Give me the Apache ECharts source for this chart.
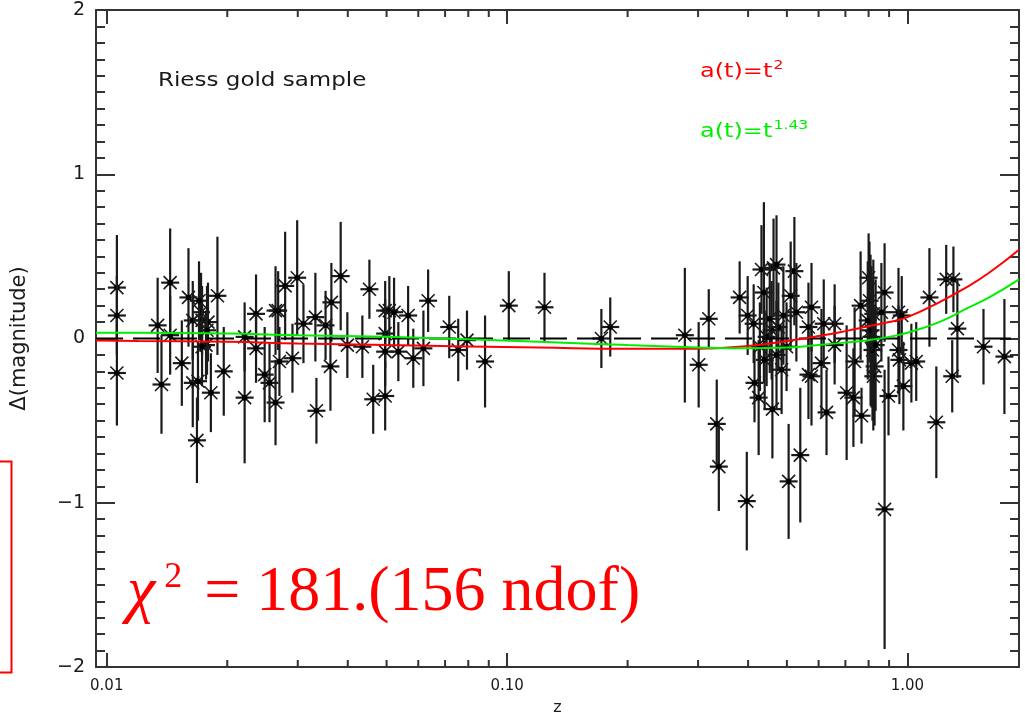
<!DOCTYPE html>
<html>
<head>
<meta charset="utf-8">
<title>Riess gold sample</title>
<script src="https://cdn.jsdelivr.net/npm/echarts@6/dist/echarts.min.js"></script>
<style>
html, body { margin: 0; padding: 0; background: #fff; }
#chart { width: 1025px; height: 714px; }
</style>
</head>
<body>
<div id="chart"></div>
<script>
// supernovae: redshift, residual magnitude, 1-sigma error
var snZ = [
  0.0106, 0.0106, 0.0106, 0.0134, 0.0144, 0.0137, 0.0144, 0.0154, 0.0160, 0.0164,
  0.0172, 0.0173, 0.0179, 0.0177, 0.0173, 0.0164, 0.0169, 0.0182, 0.0168, 0.0189,
  0.0196, 0.0221, 0.0221, 0.0236, 0.0236, 0.0248, 0.0255, 0.0264, 0.0268, 0.0264,
  0.0270, 0.0279, 0.0291, 0.0299, 0.0310, 0.0332, 0.0334, 0.0352, 0.0362, 0.0364,
  0.0384, 0.0453, 0.0399, 0.0435, 0.0496, 0.0508, 0.0522, 0.0496, 0.0496, 0.0535,
  0.0566, 0.0583, 0.0618, 0.0635, 0.0463, 0.0496, 0.0717, 0.0755, 0.0794, 0.0881,
  0.101, 0.124, 0.172, 0.181, 0.278, 0.301, 0.319, 0.334, 0.338, 0.397,
  0.381, 0.399, 0.413, 0.432, 0.438, 0.463, 0.471, 0.522, 0.511, 0.528,
  0.415, 0.425, 0.460, 0.485, 0.505, 0.540, 0.458, 0.476, 0.445, 0.428,
  0.499, 0.566, 0.566, 0.576, 0.576, 0.610, 0.628, 0.618, 0.658, 0.658,
  0.705, 0.738, 0.733, 0.768, 0.764, 0.800, 0.804, 0.822, 0.813, 0.828,
  0.822, 0.877, 0.861, 0.897, 0.877, 0.950, 0.950, 0.955, 0.977, 1.023,
  1.052, 1.135, 1.250, 1.303, 1.333, 1.294, 1.181, 1.549, 1.747, 0.968,
  0.809, 0.818, 0.796, 0.833, 0.453, 0.490, 0.471, 0.440, 0.0170, 0.0178
];
var snDm = [
  0.31, 0.14, -0.21, 0.08, 0.34, -0.28, 0.02, -0.15, 0.25, 0.11,
  0.16, 0.11, 0.10, -0.04, -0.05, -0.27, -0.26, -0.33, -0.62, 0.26,
  -0.20, -0.36, 0.01, 0.15, -0.06, -0.22, -0.27, 0.17, 0.17, -0.39,
  -0.14, 0.32, -0.12, 0.37, 0.09, 0.13, -0.44, 0.08, -0.17, 0.22,
  0.38, 0.30, -0.04, -0.05, 0.17, 0.17, 0.16, 0.03, -0.08, -0.08,
  0.14, -0.12, -0.06, 0.23, -0.37, -0.35, 0.07, -0.07, -0.01, -0.14,
  0.20, 0.19, 0.00, 0.07, 0.02, -0.16, 0.12, -0.52, -0.78, -0.99,
  0.25, 0.14, 0.09, 0.42, 0.28, 0.43, 0.45, 0.41, 0.26, 0.16,
  -0.27, -0.36, -0.43, -0.19, -0.87, -0.71, 0.05, 0.07, 0.01, -0.05,
  -0.05, 0.07, -0.22, 0.19, -0.23, -0.15, -0.45, 0.09, 0.09, -0.04,
  -0.33, -0.14, -0.36, -0.47, 0.20, 0.37, 0.23, 0.15, 0.01, -0.17,
  -0.23, 0.28, 0.16, -0.35, -1.04, 0.16, -0.07, -0.13, -0.29, -0.15,
  -0.14, 0.25, 0.36, 0.36, 0.06, -0.23, -0.51, -0.05, -0.11, 0.14,
  0.05, -0.07, 0.11, -0.04, 0.12, 0.14, -0.10, -0.13, 0.23, 0.05
];
var snErr = [
  0.32, 0.24, 0.32, 0.29, 0.33, 0.30, 0.24, 0.26, 0.30, 0.24,
  0.24, 0.21, 0.24, 0.21, 0.24, 0.27, 0.24, 0.24, 0.26, 0.36,
  0.27, 0.40, 0.21, 0.24, 0.21, 0.29, 0.24, 0.27, 0.24, 0.26,
  0.21, 0.33, 0.21, 0.35, 0.24, 0.27, 0.20, 0.21, 0.27, 0.24,
  0.33, 0.18, 0.20, 0.19, 0.18, 0.21, 0.21, 0.21, 0.21, 0.18,
  0.18, 0.18, 0.23, 0.19, 0.21, 0.21, 0.19, 0.19, 0.18, 0.28,
  0.21, 0.21, 0.18, 0.18, 0.41, 0.26, 0.18, 0.27, 0.27, 0.30,
  0.22, 0.24, 0.24, 0.27, 0.55, 0.30, 0.30, 0.33, 0.33, 0.30,
  0.24, 0.35, 0.30, 0.27, 0.35, 0.41, 0.30, 0.27, 0.30, 0.27,
  0.27, 0.27, 0.27, 0.27, 0.30, 0.33, 0.26, 0.27, 0.24, 0.24,
  0.41, 0.33, 0.30, 0.17, 0.33, 0.27, 0.36, 0.33, 0.43, 0.36,
  0.33, 0.30, 0.30, 0.24, 0.85, 0.27, 0.27, 0.27, 0.27, 0.24,
  0.24, 0.30, 0.21, 0.20, 0.30, 0.22, 0.34, 0.23, 0.35, 0.24,
  0.46, 0.43, 0.36, 0.40, 0.33, 0.30, 0.33, 0.30, 0.24, 0.27
];

// model curves relative to the reference cosmology
var modelZ = [0.0094, 0.012, 0.02, 0.03, 0.05, 0.08, 0.12, 0.2, 0.3, 0.4,
              0.5, 0.6, 0.7, 0.8, 0.9, 1.0, 1.2, 1.4, 1.6, 1.9];
var modelT2 = [-0.012, -0.015, -0.02, -0.03, -0.04, -0.048, -0.055, -0.062, -0.062, -0.045,
               -0.015, 0.015, 0.045, 0.075, 0.10, 0.13, 0.22, 0.31, 0.40, 0.54];
var modelT143 = [0.035, 0.035, 0.03, 0.02, 0.01, -0.005, -0.02, -0.04, -0.055, -0.06,
                 -0.055, -0.04, -0.025, -0.01, 0.01, 0.035, 0.10, 0.18, 0.25, 0.36];
var zeroLine = [[0.0094, 0], [1.9, 0]];

// axis ticks
var xMinorTicks = [0.02, 0.03, 0.04, 0.05, 0.06, 0.07, 0.08, 0.09,
                   0.2, 0.3, 0.4, 0.5, 0.6, 0.7, 0.8, 0.9];
var xRange = [0.0094, 1.9];
var yRange = [-2, 2];

var ink = '#1a1a1a';
var hershey = '"DejaVu Sans", sans-serif';

var chart = echarts.init(document.getElementById('chart'));

function decadeLabel(v) {
  var e = Math.log10(v);
  if (Math.abs(e - Math.round(e)) > 1e-6) return '';
  return Math.pow(10, Math.round(e)).toFixed(2);
}

function renderSn(params, api) {
  var z = api.value(0), dm = api.value(1), err = api.value(2);
  var p = api.coord([z, dm]);
  var top = api.coord([z, Math.min(dm + err, 2)]);
  var bot = api.coord([z, Math.max(dm - err, -2)]);
  var s = 9, d = 6.5;
  var style = { stroke: ink, lineWidth: 2.2 };
  var thin = { stroke: ink, lineWidth: 1.6 };
  return {
    type: 'group',
    children: [
      { type: 'line', shape: { x1: p[0], y1: top[1], x2: p[0], y2: bot[1] }, style: style },
      { type: 'line', shape: { x1: p[0] - s, y1: p[1], x2: p[0] + s, y2: p[1] }, style: style },
      { type: 'line', shape: { x1: p[0] - d, y1: p[1] - d, x2: p[0] + d, y2: p[1] + d }, style: thin },
      { type: 'line', shape: { x1: p[0] - d, y1: p[1] + d, x2: p[0] + d, y2: p[1] - d }, style: thin },
      { type: 'circle', shape: { cx: p[0], cy: p[1], r: 2.8 }, style: { fill: '#000' } }
    ]
  };
}

function renderMinorTick(params, api) {
  var v = api.value(0);
  var b = api.coord([v, yRange[0]]);
  var t = api.coord([v, yRange[1]]);
  var style = { stroke: '#333', lineWidth: 2 };
  return {
    type: 'group',
    children: [
      { type: 'line', shape: { x1: b[0], y1: b[1], x2: b[0], y2: b[1] - 7 }, style: style },
      { type: 'line', shape: { x1: t[0], y1: t[1], x2: t[0], y2: t[1] + 7 }, style: style }
    ]
  };
}

var axisLine = { show: true, onZero: false, lineStyle: { color: '#333', width: 2 } };

chart.setOption({
  animation: false,
  backgroundColor: '#fff',
  grid: { left: 96, right: 6, top: 10, bottom: 47, containLabel: false, outerBoundsMode: 'none' },
  xAxis: [{
    type: 'log', logBase: 10, min: xRange[0], max: xRange[1],
    name: 'z', nameLocation: 'middle', nameGap: 33,
    nameTextStyle: { color: ink, fontFamily: hershey, fontSize: 16 },
    axisLine: axisLine,
    axisTick: { show: true, inside: true, length: 14, lineStyle: { color: '#333', width: 2 } },
    axisLabel: { formatter: decadeLabel, color: ink, fontFamily: hershey, fontSize: 15, margin: 12,
                 showMinLabel: true, showMaxLabel: true },
    splitLine: { show: false }, minorTick: { show: false }
  }, {
    type: 'log', logBase: 10, min: xRange[0], max: xRange[1], position: 'top',
    axisLine: axisLine,
    axisTick: { show: true, inside: true, length: 14, lineStyle: { color: '#333', width: 2 } },
    axisLabel: { show: false }, splitLine: { show: false }
  }],
  yAxis: [{
    type: 'value', min: yRange[0], max: yRange[1], interval: 1,
    name: 'Δ(magnitude)', nameLocation: 'middle', nameGap: 66, nameRotate: 90,
    nameTextStyle: { color: ink, fontFamily: hershey, fontSize: 21 },
    axisLine: axisLine,
    axisTick: { show: true, inside: true, length: 19, lineStyle: { color: '#333', width: 2 } },
    minorTick: { show: true, splitNumber: 10, length: 9, lineStyle: { color: '#333', width: 2 } },
    axisLabel: { formatter: function (v) { return String(v).replace('-', '\u2212'); },
                 color: ink, fontFamily: hershey, fontSize: 19, margin: 11 },
    splitLine: { show: false }
  }, {
    type: 'value', min: yRange[0], max: yRange[1], interval: 1, position: 'right',
    axisLine: axisLine,
    axisTick: { show: true, inside: true, length: 19, lineStyle: { color: '#333', width: 2 } },
    minorTick: { show: true, splitNumber: 10, length: 9, lineStyle: { color: '#333', width: 2 } },
    axisLabel: { show: false }, splitLine: { show: false }
  }],
  series: [{
    type: 'custom',
    name: 'ticks',
    renderItem: renderMinorTick,
    data: xMinorTicks.map(function (v) { return [v, 0]; }),
    silent: true, z: 1
  }, {
    type: 'custom',
    name: 'Riess gold',
    renderItem: renderSn,
    data: snZ.map(function (z, i) { return [z, snDm[i], snErr[i]]; }),
    encode: { x: 0, y: 1 },
    clip: true, z: 2
  }, {
    type: 'line', name: 'zero', data: zeroLine, showSymbol: false, silent: true, z: 3,
    lineStyle: { color: '#000', width: 2, type: [27, 10] }
  }, {
    type: 'line', name: 'a(t)=t^2', showSymbol: false, smooth: true, silent: true, z: 4,
    data: modelZ.map(function (z, i) { return [z, modelT2[i]]; }),
    lineStyle: { color: '#ff0000', width: 2 }
  }, {
    type: 'line', name: 'a(t)=t^1.43', showSymbol: false, smooth: true, silent: true, z: 5,
    data: modelZ.map(function (z, i) { return [z, modelT143[i]]; }),
    lineStyle: { color: '#00ee00', width: 2 }
  }],
  graphic: [{
    type: 'text', x: 158, y: 71, scaleX: 1.15,
    style: { text: 'Riess gold sample', fill: ink, font: '20px ' + hershey }
  }, {
    type: 'text', x: 700, y: 59, scaleX: 1.2,
    style: {
      text: '{b|a(t)=t}{s|2}',
      rich: {
        b: { fill: '#ff0000', font: '20px ' + hershey, verticalAlign: 'bottom' },
        s: { fill: '#ff0000', font: '13px ' + hershey, verticalAlign: 'top', padding: [0, 0, 10, 1] }
      }
    }
  }, {
    type: 'text', x: 700, y: 119, scaleX: 1.2,
    style: {
      text: '{b|a(t)=t}{s|1.43}',
      rich: {
        b: { fill: '#00ee00', font: '20px ' + hershey, verticalAlign: 'bottom' },
        s: { fill: '#00ee00', font: '13px ' + hershey, verticalAlign: 'top', padding: [0, 0, 10, 1] }
      }
    }
  }, {
    type: 'text', x: 127, y: 560,
    style: {
      text: '{c|\u03C7}{s| 2}{n| = 181.(156 ndof)}',
      rich: {
        c: { fill: '#ff0000', font: 'italic 64px "Liberation Serif", serif' },
        s: { fill: '#ff0000', font: '36px "Liberation Serif", serif', padding: [0, 6, 30, 0] },
        n: { fill: '#ff0000', font: '64px "Liberation Serif", serif' }
      }
    }
  }, {
    type: 'rect', left: -20, top: 459,
    shape: { width: 29, height: 211 },
    style: { fill: 'none', stroke: '#ff0000', lineWidth: 2 }
  }]
});
</script>
</body>
</html>
